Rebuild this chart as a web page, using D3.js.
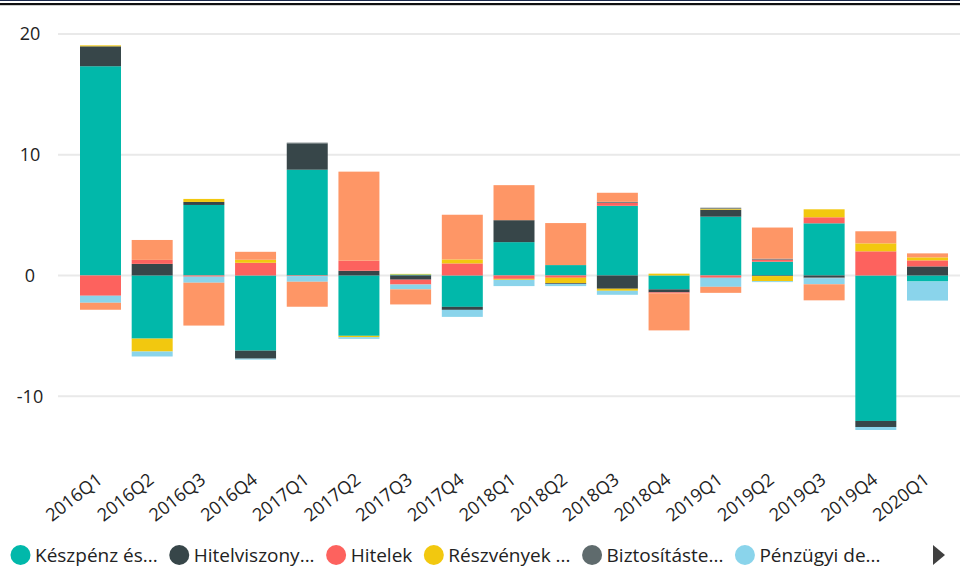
<!DOCTYPE html>
<html>
<head>
<meta charset="utf-8">
<script src="https://cdn.jsdelivr.net/npm/d3@7"></script>
<style>
  body { margin: 0; background: #fff; }
  svg { display: block; font-family: "Open Sans", "Noto Sans", sans-serif; }
</style>
</head>
<body>
<div id="chart"></div>
<script>
// stacked quarterly contributions, Power BI style

const quarters = ["2016Q1", "2016Q2", "2016Q3", "2016Q4", "2017Q1", "2017Q2", "2017Q3", "2017Q4",
    "2018Q1", "2018Q2", "2018Q3", "2018Q4", "2019Q1", "2019Q2", "2019Q3", "2019Q4", "2020Q1"];

const seriesNames = ["Készpénz és betétek", "Hitelviszonyt megtestesítő értékpapírok", "Hitelek",
    "Részvények és egyéb részesedések", "Biztosítástechnikai tartalékok", "Pénzügyi derivatívák", "Egyéb követelések"];
const legendLabels = ["Készpénz és...", "Hitelviszony...", "Hitelek", "Részvények ...", "Biztosításte...", "Pénzügyi de..."];
const colors = ["#01B8AA", "#374649", "#FD625E", "#F2C80F", "#5F6B6D", "#8AD4EB", "#FE9666"];

const keszpenz = [17.33, -5.23, 5.84, -6.23, 8.76, -5.0, 0.08, -2.6, 2.76, 0.86, 5.77, -1.15, 4.87, 1.14, 4.32, -12.05, -0.5];
const hitelviszony = [1.65, 0.96, 0.25, -0.66, 2.18, 0.39, -0.35, -0.25, 1.82, 0, -1.1, -0.25, 0.58, -0.05, -0.15, -0.5, 0.75];
const hitelek = [-1.68, 0.33, -0.1, 1.05, -0.05, 0.83, -0.4, 1.0, -0.28, -0.19, 0.25, -0.08, -0.19, 0.17, 0.5, 2.0, 0.5];
const reszvenyek = [0.08, -1.07, 0.25, 0.25, 0, -0.11, 0.05, 0.33, -0.08, -0.44, -0.17, 0.15, 0.08, -0.42, 0.66, 0.66, 0.25];
const biztositas = [0, 0, 0, 0, 0.06, 0, 0, 0, 0, -0.08, 0.08, 0, 0.08, 0.08, -0.08, 0, 0];
const derivativak = [-0.58, -0.41, -0.5, -0.08, -0.47, -0.14, -0.4, -0.58, -0.52, -0.17, -0.33, 0, -0.75, -0.08, -0.5, -0.25, -1.58];
const egyeb = [-0.58, 1.65, -3.55, 0.66, -2.07, 7.38, -1.25, 3.7, 2.9, 3.48, 0.75, -3.07, -0.5, 2.58, -1.33, 1.0, 0.33];

const yTicks = [-10, 0, 10, 20];

const width = 960, height = 569;
const allSeries = [keszpenz, hitelviszony, hitelek, reszvenyek, biztositas, derivativak, egyeb];

// rows for d3.stack
let rows = quarters.map((q, i) => {
    let row = { quarter: q };
    seriesNames.forEach((s, j) => row[s] = allSeries[j][i]);
    return row;
});

let stacked = d3.stack()
    .keys(seriesNames)
    .offset(d3.stackOffsetDiverging)(rows);

let svg = d3.select("#chart")
    .append("svg")
    .attr("width", width)
    .attr("height", height);

// top border lines
svg.append("rect").attr("x", 0).attr("y", 0).attr("width", width).attr("height", 1).attr("fill", "#1c2a4d");
svg.append("rect").attr("x", 0).attr("y", 3).attr("width", width).attr("height", 2.2).attr("fill", "#111");

let x = d3.scaleBand()
    .domain(quarters)
    .range([74.65, 953.35])
    .paddingInner(0.207)
    .paddingOuter(0.1035);

let y = d3.scaleLinear()
    .domain([-10, 20])
    .range([396.2, 34]);

// gridlines
svg.append("g")
    .selectAll("line")
    .data(yTicks)
    .join("line")
    .attr("x1", 58)
    .attr("x2", width)
    .attr("y1", d => y(d))
    .attr("y2", d => y(d))
    .attr("stroke", "#e9e9e9")
    .attr("stroke-width", 2);

svg.append("g")
    .selectAll("text")
    .data(yTicks)
    .join("text")
    .attr("x", 30)
    .attr("y", d => y(d))
    .attr("dy", "0.35em")
    .attr("text-anchor", "middle")
    .attr("font-size", 18)
    .attr("fill", "#222")
    .text(d => d);

// bars
svg.append("g")
    .selectAll("g")
    .data(stacked)
    .join("g")
    .attr("fill", (d, i) => colors[i])
    .selectAll("rect")
    .data(d => d)
    .join("rect")
    .attr("x", d => x(d.data.quarter))
    .attr("width", x.bandwidth())
    .attr("y", d => y(Math.max(d[0], d[1])))
    .attr("height", d => Math.abs(y(d[0]) - y(d[1])));

// x labels
svg.append("g")
    .selectAll("text")
    .data(quarters)
    .join("text")
    .attr("transform", d => "translate(" + (x(d) + x.bandwidth() / 2 + 3) + ",482) rotate(-38)")
    .attr("text-anchor", "end")
    .attr("font-size", 18)
    .attr("fill", "#222")
    .text(d => d);

// legend
let legend = svg.append("g");
let lx = 10;
legendLabels.forEach((label, i) => {
    legend.append("circle")
        .attr("cx", lx + 10.5)
        .attr("cy", 555)
        .attr("r", 10)
        .attr("fill", colors[i]);
    let t = legend.append("text")
        .attr("x", lx + 25)
        .attr("y", 555)
        .attr("dy", "0.35em")
        .attr("font-size", 19)
        .attr("fill", "#222")
        .text(label);
    lx += 25 + t.node().getComputedTextLength() + 11;
});

legend.append("path")
    .attr("d", "M933,545 L945,555 L933,565 Z")
    .attr("fill", "#404040");
</script>
</body>
</html>
